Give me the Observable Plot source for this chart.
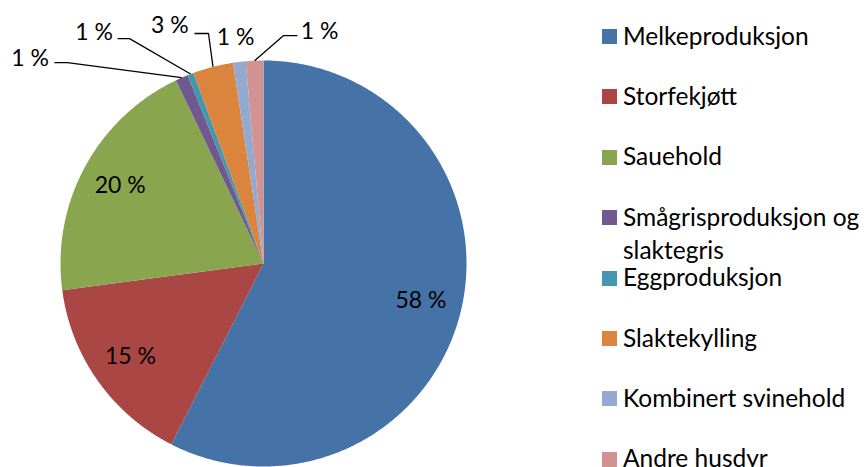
<!DOCTYPE html>
<html>
<head>
<meta charset="utf-8">
<script src="https://cdn.jsdelivr.net/npm/d3@7"></script>
<script src="https://cdn.jsdelivr.net/npm/@observablehq/plot@0.6"></script>
<style>
  html, body { margin: 0; padding: 0; background: #fff; }
  #wrap { position: relative; width: 864px; height: 467px; overflow: hidden; font-family: Lato, "Open Sans", sans-serif; }
  #chart { position: absolute; left: 0; top: 0; }
  .sw { position: absolute; width: 15px; height: 15px; }
  .lt { position: absolute; font-size: 24.5px; line-height: 33px; color: #000; white-space: nowrap; }
</style>
</head>
<body>
<div id="wrap"><div id="chart"></div></div>
<script>
// ---- data ----
const categories = ["Melkeproduksjon", "Storfekjøtt", "Sauehold", "Smågrisproduksjon og slaktegris", "Eggproduksjon", "Slaktekylling", "Kombinert svinehold", "Andre husdyr"];
const values = [57.5, 15.4, 20.0, 1.0, 0.5, 3.2, 1.0, 1.4];
const labels = ["58 %", "15 %", "20 %", "1 %", "1 %", "3 %", "1 %", "1 %"];
const colors = ["#4572A7", "#AA4643", "#89A54E", "#71588F", "#4198AF", "#DB843D", "#93A9CF", "#D19392"];

// ---- layout (not data) ----
const insideIdx = [0, 1, 2];
const insideNudge = [[-3, 13], [-4, -2], [-3, 10]];
const outside = [
  {i: 3, tx: -1.150, ty: 1.010, sx: -1.030, ex: -0.966, ly: 0.990},
  {i: 4, tx: -0.835, ty: 1.138, sx: -0.719, ex: -0.660, ly: 1.108},
  {i: 5, tx: -0.461, ty: 1.172, sx: -0.340, ex: -0.271, ly: 1.133},
  {i: 6, tx: -0.138, ty: 1.113, sx: null, ex: null, ly: null},
  {i: 7, tx: 0.276, ty: 1.143, sx: 0.167, ex: 0.099, ly: 1.123}
];

const total = d3.sum(values);
const starts = [];
let cum = 0;
values.forEach(v => { starts.push(cum / total * 2 * Math.PI); cum += v; });
const ends = values.map((v, i) => starts[i] + v / total * 2 * Math.PI);
const mids = values.map((v, i) => (starts[i] + ends[i]) / 2);

const slicePts = [];
categories.forEach((c, i) => {
  const a0 = starts[i], a1 = ends[i];
  const n = Math.max(4, Math.ceil((a1 - a0) / (Math.PI / 360)));
  slicePts.push({cat: c, x: 0, y: 0});
  for (let k = 0; k <= n; k++) {
    const a = a0 + (a1 - a0) * k / n;
    slicePts.push({cat: c, x: Math.sin(a), y: Math.cos(a)});
  }
});

const inside = insideIdx.map((i, j) => ({
  label: labels[i], x: 0.8 * Math.sin(mids[i]), y: 0.8 * Math.cos(mids[i]),
  dx: insideNudge[j][0], dy: insideNudge[j][1]
}));

const outsideText = outside.map(o => ({label: labels[o.i], x: o.tx, y: o.ty}));
const leaderPts = [];
outside.forEach(o => {
  if (o.sx == null) return;
  leaderPts.push({id: o.i, x: o.sx, y: o.ly});
  leaderPts.push({id: o.i, x: o.ex, y: o.ly});
  leaderPts.push({id: o.i, x: Math.sin(mids[o.i]), y: Math.cos(mids[o.i])});
});

const chart = Plot.plot({
  width: 864,
  height: 467,
  marginLeft: 60,
  marginRight: 398,
  marginTop: 60,
  marginBottom: 1,
  x: {domain: [-1, 1], axis: null},
  y: {domain: [-1, 1], axis: null},
  color: {domain: categories, range: colors},
  style: {fontFamily: "Lato, 'Open Sans', sans-serif", background: "#fff", overflow: "visible"},
  marks: [
    Plot.line(slicePts, {x: "x", y: "y", z: "cat", fill: "cat", stroke: "none", curve: "linear-closed"}),
    Plot.line(leaderPts, {x: "x", y: "y", z: "id", stroke: "#000", strokeWidth: 1.3, fill: "none", strokeLinecap: "butt", strokeLinejoin: "miter"}),
    Plot.text(inside, {x: "x", y: "y", text: "label", dx: "dx", dy: "dy", fontSize: 23, fill: "#000", textAnchor: "middle", lineAnchor: "middle"}),
    Plot.text(outsideText, {x: "x", y: "y", text: "label", fontSize: 23, fill: "#000", textAnchor: "middle", lineAnchor: "middle"})
  ]
});
document.getElementById("chart").appendChild(chart);

// ---- legend ----
const wrap = document.getElementById("wrap");
categories.forEach((c, i) => {
  const cy = 36.5 + i * 60.4;
  const sw = document.createElement("div");
  sw.className = "sw";
  sw.style.left = "602px";
  sw.style.top = (cy - 7.5) + "px";
  sw.style.background = colors[i];
  wrap.appendChild(sw);
  const t = document.createElement("div");
  t.className = "lt";
  t.style.left = "623px";
  t.style.top = (cy + 7.5 - 25.5) + "px";
  const parts = c === "Smågrisproduksjon og slaktegris" ? ["Smågrisproduksjon og", "slaktegris"] : [c];
  parts.forEach((p, k) => {
    if (k) t.appendChild(document.createElement("br"));
    t.appendChild(document.createTextNode(p));
  });
  wrap.appendChild(t);
});
</script>
</body>
</html>
